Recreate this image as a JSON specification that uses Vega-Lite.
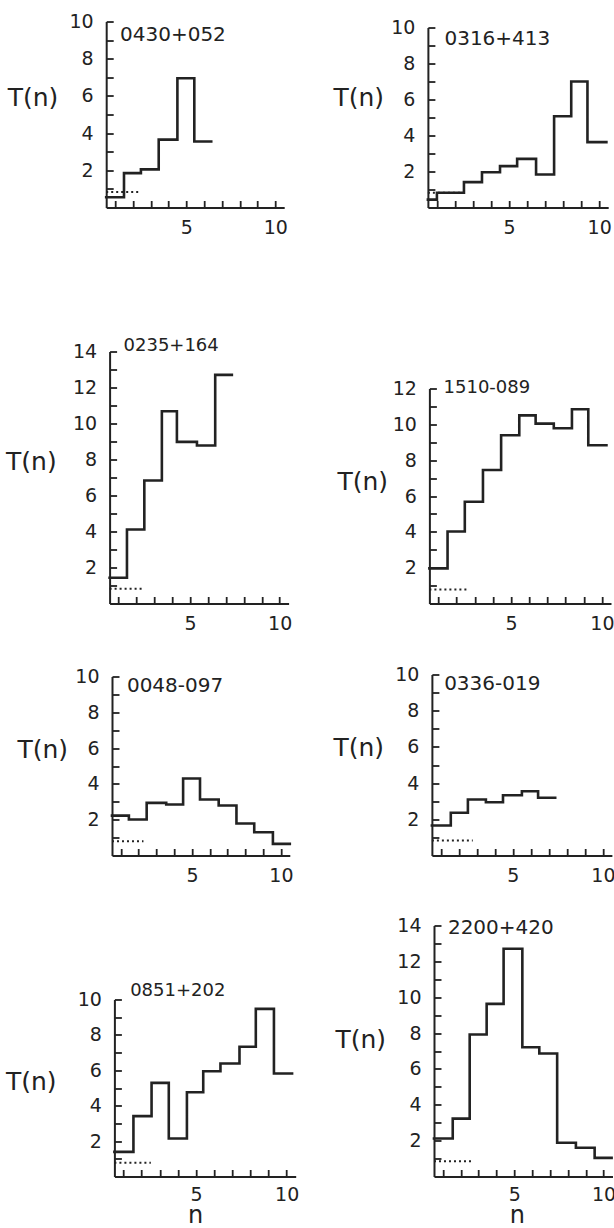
{
  "$schema": "https://vega.github.io/schema/vega-lite/v6.json",
  "background": "white",
  "padding": {"left": 5.2, "top": 12.5, "right": 0, "bottom": 0},
  "autosize": {"type": "pad"},
  "config": {
    "view": {"stroke": null},
    "font": "DejaVu Sans",
    "axis": {
      "grid": false,
      "domainColor": "#222",
      "domainWidth": 2,
      "tickColor": "#222",
      "tickWidth": 1.8,
      "tickSize": -7,
      "tickCount": 20,
      "labelFont": "DejaVu Sans",
      "labelFontSize": 19,
      "labelColor": "#222",
      "labelFlush": false,
      "labelOverlap": false,
      "titleFont": "DejaVu Sans",
      "titleFontWeight": "normal",
      "titleColor": "#222"
    }
  },
  "datasets": {
    "bins": [
      {"p": "0430+052", "n": 1, "lo": 0.5, "hi": 1.5, "T": 0.55},
      {"p": "0430+052", "n": 2, "lo": 1.5, "hi": 2.45, "T": 1.85},
      {"p": "0430+052", "n": 3, "lo": 2.45, "hi": 3.45, "T": 2.05},
      {"p": "0430+052", "n": 4, "lo": 3.45, "hi": 4.5, "T": 3.65},
      {"p": "0430+052", "n": 5, "lo": 4.5, "hi": 5.45, "T": 6.95},
      {"p": "0430+052", "n": 6, "lo": 5.45, "hi": 6.4, "T": 3.55},
      {"p": "0316+413", "n": 1, "lo": 0.5, "hi": 1.0, "T": 0.44},
      {"p": "0316+413", "n": 2, "lo": 1.0, "hi": 2.5, "T": 0.82},
      {"p": "0316+413", "n": 3, "lo": 2.5, "hi": 3.5, "T": 1.41},
      {"p": "0316+413", "n": 4, "lo": 3.5, "hi": 4.5, "T": 1.96},
      {"p": "0316+413", "n": 5, "lo": 4.5, "hi": 5.45, "T": 2.3},
      {"p": "0316+413", "n": 6, "lo": 5.45, "hi": 6.5, "T": 2.7},
      {"p": "0316+413", "n": 7, "lo": 6.5, "hi": 7.5, "T": 1.83},
      {"p": "0316+413", "n": 8, "lo": 7.5, "hi": 8.45, "T": 5.07},
      {"p": "0316+413", "n": 9, "lo": 8.45, "hi": 9.35, "T": 7.0},
      {"p": "0316+413", "n": 10, "lo": 9.35, "hi": 10.4, "T": 3.63},
      {"p": "0235+164", "n": 1, "lo": 0.5, "hi": 1.47, "T": 1.43},
      {"p": "0235+164", "n": 2, "lo": 1.47, "hi": 2.44, "T": 4.11},
      {"p": "0235+164", "n": 3, "lo": 2.44, "hi": 3.42, "T": 6.83},
      {"p": "0235+164", "n": 4, "lo": 3.42, "hi": 4.26, "T": 10.68},
      {"p": "0235+164", "n": 5, "lo": 4.26, "hi": 5.38, "T": 8.98},
      {"p": "0235+164", "n": 6, "lo": 5.38, "hi": 6.4, "T": 8.78},
      {"p": "0235+164", "n": 7, "lo": 6.4, "hi": 7.33, "T": 12.7},
      {"p": "1510-089", "n": 1, "lo": 0.5, "hi": 1.5, "T": 1.96},
      {"p": "1510-089", "n": 2, "lo": 1.5, "hi": 2.45, "T": 4.02},
      {"p": "1510-089", "n": 3, "lo": 2.45, "hi": 3.45, "T": 5.68},
      {"p": "1510-089", "n": 4, "lo": 3.45, "hi": 4.45, "T": 7.45},
      {"p": "1510-089", "n": 5, "lo": 4.45, "hi": 5.45, "T": 9.39},
      {"p": "1510-089", "n": 6, "lo": 5.45, "hi": 6.35, "T": 10.5},
      {"p": "1510-089", "n": 7, "lo": 6.35, "hi": 7.35, "T": 10.04},
      {"p": "1510-089", "n": 8, "lo": 7.35, "hi": 8.35, "T": 9.78},
      {"p": "1510-089", "n": 9, "lo": 8.35, "hi": 9.25, "T": 10.84},
      {"p": "1510-089", "n": 10, "lo": 9.25, "hi": 10.25, "T": 8.83},
      {"p": "0048-097", "n": 1, "lo": 0.5, "hi": 1.45, "T": 2.23},
      {"p": "0048-097", "n": 2, "lo": 1.45, "hi": 2.45, "T": 2.01},
      {"p": "0048-097", "n": 3, "lo": 2.45, "hi": 3.55, "T": 2.94},
      {"p": "0048-097", "n": 4, "lo": 3.55, "hi": 4.5, "T": 2.85},
      {"p": "0048-097", "n": 5, "lo": 4.5, "hi": 5.45, "T": 4.3},
      {"p": "0048-097", "n": 6, "lo": 5.45, "hi": 6.5, "T": 3.13},
      {"p": "0048-097", "n": 7, "lo": 6.5, "hi": 7.5, "T": 2.79},
      {"p": "0048-097", "n": 8, "lo": 7.5, "hi": 8.5, "T": 1.79},
      {"p": "0048-097", "n": 9, "lo": 8.5, "hi": 9.55, "T": 1.3},
      {"p": "0048-097", "n": 10, "lo": 9.55, "hi": 10.5, "T": 0.65},
      {"p": "0336-019", "n": 1, "lo": 0.5, "hi": 1.55, "T": 1.66},
      {"p": "0336-019", "n": 2, "lo": 1.55, "hi": 2.5, "T": 2.36},
      {"p": "0336-019", "n": 3, "lo": 2.5, "hi": 3.5, "T": 3.09},
      {"p": "0336-019", "n": 4, "lo": 3.5, "hi": 4.45, "T": 2.94},
      {"p": "0336-019", "n": 5, "lo": 4.45, "hi": 5.5, "T": 3.33},
      {"p": "0336-019", "n": 6, "lo": 5.5, "hi": 6.4, "T": 3.55},
      {"p": "0336-019", "n": 7, "lo": 6.4, "hi": 7.35, "T": 3.19},
      {"p": "0851+202", "n": 1, "lo": 0.5, "hi": 1.55, "T": 1.39},
      {"p": "0851+202", "n": 2, "lo": 1.55, "hi": 2.55, "T": 3.41},
      {"p": "0851+202", "n": 3, "lo": 2.55, "hi": 3.5, "T": 5.29},
      {"p": "0851+202", "n": 4, "lo": 3.5, "hi": 4.5, "T": 2.15},
      {"p": "0851+202", "n": 5, "lo": 4.5, "hi": 5.4, "T": 4.76},
      {"p": "0851+202", "n": 6, "lo": 5.4, "hi": 6.35, "T": 5.95},
      {"p": "0851+202", "n": 7, "lo": 6.35, "hi": 7.4, "T": 6.38},
      {"p": "0851+202", "n": 8, "lo": 7.4, "hi": 8.3, "T": 7.33},
      {"p": "0851+202", "n": 9, "lo": 8.3, "hi": 9.3, "T": 9.47},
      {"p": "0851+202", "n": 10, "lo": 9.3, "hi": 10.3, "T": 5.82},
      {"p": "2200+420", "n": 1, "lo": 0.5, "hi": 1.55, "T": 2.12},
      {"p": "2200+420", "n": 2, "lo": 1.55, "hi": 2.5, "T": 3.23},
      {"p": "2200+420", "n": 3, "lo": 2.5, "hi": 3.45, "T": 7.92},
      {"p": "2200+420", "n": 4, "lo": 3.45, "hi": 4.4, "T": 9.63},
      {"p": "2200+420", "n": 5, "lo": 4.4, "hi": 5.45, "T": 12.7},
      {"p": "2200+420", "n": 6, "lo": 5.45, "hi": 6.4, "T": 7.21},
      {"p": "2200+420", "n": 7, "lo": 6.4, "hi": 7.4, "T": 6.86},
      {"p": "2200+420", "n": 8, "lo": 7.4, "hi": 8.45, "T": 1.88},
      {"p": "2200+420", "n": 9, "lo": 8.45, "hi": 9.5, "T": 1.6},
      {"p": "2200+420", "n": 10, "lo": 9.5, "hi": 10.45, "T": 1.04}
    ],
    "noise": [
      {"p": "0430+052", "lo": 0.5, "hi": 2.4, "T": 0.83},
      {"p": "0316+413", "lo": 0.5, "hi": 2.3, "T": 0.82},
      {"p": "0235+164", "lo": 0.5, "hi": 2.43, "T": 0.82},
      {"p": "1510-089", "lo": 0.5, "hi": 2.7, "T": 0.78},
      {"p": "0048-097", "lo": 0.5, "hi": 2.27, "T": 0.8},
      {"p": "0336-019", "lo": 0.5, "hi": 2.77, "T": 0.83},
      {"p": "0851+202", "lo": 0.5, "hi": 2.51, "T": 0.77},
      {"p": "2200+420", "lo": 0.5, "hi": 2.6, "T": 0.85}
    ]
  },
  "columns": 2,
  "align": "each",
  "bounds": "flush",
  "spacing": {"row": 50, "column": 131},
  "concat": [
    {
      "width": 190, "height": 193,
      "layer": [
        {
          "data": {"name": "bins"},
          "transform": [{"filter": "datum.p === '0430+052'"}, {"fold": ["lo", "hi"], "as": ["k", "x"]}],
          "mark": {"type": "line", "stroke": "#222", "strokeWidth": 2.6, "strokeJoin": "miter", "strokeCap": "square"},
          "encoding": {
            "x": {"field": "x", "type": "quantitative", "scale": {"domain": [0.5, 10.5], "range": [0, 178], "nice": false, "zero": false},
                  "axis": {"values": [1,2,3,4,5,6,7,8,9,10], "format": "d", "tickCount": 20, "labelExpr": "datum.value % 5 === 0 ? datum.label : ''", "labelOverlap": false, "labelPadding": 18, "title": null}},
            "y": {"field": "T", "type": "quantitative", "scale": {"domain": [0, 10], "range": [193, 7], "nice": false, "zero": true},
                  "axis": {"values": [1,2,3,4,5,6,7,8,9,10], "format": "d", "tickCount": 20, "labelExpr": "datum.value % 2 === 0 ? datum.label : ''", "labelOverlap": false, "labelPadding": 20, "offset": 0,
                           "title": "T(n)", "titleAngle": 0, "titleAlign": "left", "titleBaseline": "middle", "titleFontSize": 25, "titleX": -99, "titleY": 83}},
            "order": [{"field": "x", "type": "quantitative"}, {"field": "n", "type": "quantitative"}]
          }
        },
        {
          "data": {"name": "noise"},
          "transform": [{"filter": "datum.p === '0430+052'"}],
          "mark": {"type": "rule", "stroke": "#222", "strokeWidth": 2, "strokeDash": [2, 3]},
          "encoding": {"x": {"field": "lo", "type": "quantitative"}, "x2": {"field": "hi"}, "y": {"field": "T", "type": "quantitative"}}
        },
        {
          "data": {"values": [{}]},
          "mark": {"type": "text", "align": "left", "baseline": "middle", "fontSize": 20, "font": "DejaVu Sans", "color": "#222"},
          "encoding": {"x": {"datum": 1.28, "type": "quantitative"}, "y": {"datum": 9.25, "type": "quantitative"}, "text": {"value": "0430+052"}}
        }
      ]
    },
    {
      "width": 178, "height": 193,
      "layer": [
        {
          "data": {"name": "bins"},
          "transform": [{"filter": "datum.p === '0316+413'"}, {"fold": ["lo", "hi"], "as": ["k", "x"]}],
          "mark": {"type": "line", "stroke": "#222", "strokeWidth": 2.6, "strokeJoin": "miter", "strokeCap": "square"},
          "encoding": {
            "x": {"field": "x", "type": "quantitative", "scale": {"domain": [0.5, 10.5], "range": [0.7, 181], "nice": false, "zero": false},
                  "axis": {"values": [1,2,3,4,5,6,7,8,9,10], "format": "d", "tickCount": 20, "labelExpr": "datum.value % 5 === 0 ? datum.label : ''", "labelOverlap": false, "labelPadding": 18, "title": null}},
            "y": {"field": "T", "type": "quantitative", "scale": {"domain": [0, 10], "range": [193, 13], "nice": false, "zero": true},
                  "axis": {"values": [1,2,3,4,5,6,7,8,9,10], "format": "d", "tickCount": 20, "labelExpr": "datum.value % 2 === 0 ? datum.label : ''", "labelOverlap": false, "labelPadding": 20, "offset": -0.7,
                           "title": "T(n)", "titleAngle": 0, "titleAlign": "left", "titleBaseline": "middle", "titleFontSize": 25, "titleX": -95, "titleY": 83}},
            "order": [{"field": "x", "type": "quantitative"}, {"field": "n", "type": "quantitative"}]
          }
        },
        {
          "data": {"name": "noise"},
          "transform": [{"filter": "datum.p === '0316+413'"}],
          "mark": {"type": "rule", "stroke": "#222", "strokeWidth": 2, "strokeDash": [2, 3]},
          "encoding": {"x": {"field": "lo", "type": "quantitative"}, "x2": {"field": "hi"}, "y": {"field": "T", "type": "quantitative"}}
        },
        {
          "data": {"values": [{}]},
          "mark": {"type": "text", "align": "left", "baseline": "middle", "fontSize": 20, "font": "DejaVu Sans", "color": "#222"},
          "encoding": {"x": {"datum": 1.42, "type": "quantitative"}, "y": {"datum": 9.37, "type": "quantitative"}, "text": {"value": "0316+413"}}
        }
      ]
    },
    {
      "width": 190, "height": 346,
      "layer": [
        {
          "data": {"name": "bins"},
          "transform": [{"filter": "datum.p === '0235+164'"}, {"fold": ["lo", "hi"], "as": ["k", "x"]}],
          "mark": {"type": "line", "stroke": "#222", "strokeWidth": 2.6, "strokeJoin": "miter", "strokeCap": "square"},
          "encoding": {
            "x": {"field": "x", "type": "quantitative", "scale": {"domain": [0.5, 10.5], "range": [3.4, 182.4], "nice": false, "zero": false},
                  "axis": {"values": [1,2,3,4,5,6,7,8,9,10], "format": "d", "tickCount": 20, "labelExpr": "datum.value % 5 === 0 ? datum.label : ''", "labelOverlap": false, "labelPadding": 18, "title": null}},
            "y": {"field": "T", "type": "quantitative", "scale": {"domain": [0, 14], "range": [346, 94], "nice": false, "zero": true},
                  "axis": {"values": [1,2,3,4,5,6,7,8,9,10,11,12,13,14], "format": "d", "tickCount": 20, "labelExpr": "datum.value % 2 === 0 ? datum.label : ''", "labelOverlap": false, "labelPadding": 20, "offset": -3.4,
                           "title": "T(n)", "titleAngle": 0, "titleAlign": "left", "titleBaseline": "middle", "titleFontSize": 25, "titleX": -104, "titleY": 203.7}},
            "order": [{"field": "x", "type": "quantitative"}, {"field": "n", "type": "quantitative"}]
          }
        },
        {
          "data": {"name": "noise"},
          "transform": [{"filter": "datum.p === '0235+164'"}],
          "mark": {"type": "rule", "stroke": "#222", "strokeWidth": 2, "strokeDash": [2, 3]},
          "encoding": {"x": {"field": "lo", "type": "quantitative"}, "x2": {"field": "hi"}, "y": {"field": "T", "type": "quantitative"}}
        },
        {
          "data": {"values": [{}]},
          "mark": {"type": "text", "align": "left", "baseline": "middle", "fontSize": 18, "font": "DejaVu Sans", "color": "#222"},
          "encoding": {"x": {"datum": 1.28, "type": "quantitative"}, "y": {"datum": 14.3, "type": "quantitative"}, "text": {"value": "0235+164"}}
        }
      ]
    },
    {
      "width": 178, "height": 346,
      "layer": [
        {
          "data": {"name": "bins"},
          "transform": [{"filter": "datum.p === '1510-089'"}, {"fold": ["lo", "hi"], "as": ["k", "x"]}],
          "mark": {"type": "line", "stroke": "#222", "strokeWidth": 2.6, "strokeJoin": "miter", "strokeCap": "square"},
          "encoding": {
            "x": {"field": "x", "type": "quantitative", "scale": {"domain": [0.5, 10.5], "range": [2.2, 183.8], "nice": false, "zero": false},
                  "axis": {"values": [1,2,3,4,5,6,7,8,9,10], "format": "d", "tickCount": 20, "labelExpr": "datum.value % 5 === 0 ? datum.label : ''", "labelOverlap": false, "labelPadding": 18, "title": null}},
            "y": {"field": "T", "type": "quantitative", "scale": {"domain": [0, 12], "range": [346, 131], "nice": false, "zero": true},
                  "axis": {"values": [1,2,3,4,5,6,7,8,9,10,11,12], "format": "d", "tickCount": 20, "labelExpr": "datum.value % 2 === 0 ? datum.label : ''", "labelOverlap": false, "labelPadding": 20, "offset": -2.2,
                           "title": "T(n)", "titleAngle": 0, "titleAlign": "left", "titleBaseline": "middle", "titleFontSize": 25, "titleX": -92.5, "titleY": 223.7}},
            "order": [{"field": "x", "type": "quantitative"}, {"field": "n", "type": "quantitative"}]
          }
        },
        {
          "data": {"name": "noise"},
          "transform": [{"filter": "datum.p === '1510-089'"}],
          "mark": {"type": "rule", "stroke": "#222", "strokeWidth": 2, "strokeDash": [2, 3]},
          "encoding": {"x": {"field": "lo", "type": "quantitative"}, "x2": {"field": "hi"}, "y": {"field": "T", "type": "quantitative"}}
        },
        {
          "data": {"values": [{}]},
          "mark": {"type": "text", "align": "left", "baseline": "middle", "fontSize": 18, "font": "DejaVu Sans", "color": "#222"},
          "encoding": {"x": {"datum": 1.28, "type": "quantitative"}, "y": {"datum": 12.05, "type": "quantitative"}, "text": {"value": "1510-089"}}
        }
      ]
    },
    {
      "width": 190, "height": 202,
      "layer": [
        {
          "data": {"name": "bins"},
          "transform": [{"filter": "datum.p === '0048-097'"}, {"fold": ["lo", "hi"], "as": ["k", "x"]}],
          "mark": {"type": "line", "stroke": "#222", "strokeWidth": 2.6, "strokeJoin": "miter", "strokeCap": "square"},
          "encoding": {
            "x": {"field": "x", "type": "quantitative", "scale": {"domain": [0.5, 10.5], "range": [5.8, 183.6], "nice": false, "zero": false},
                  "axis": {"values": [1,2,3,4,5,6,7,8,9,10], "format": "d", "tickCount": 20, "labelExpr": "datum.value % 5 === 0 ? datum.label : ''", "labelOverlap": false, "labelPadding": 18, "title": null}},
            "y": {"field": "T", "type": "quantitative", "scale": {"domain": [0, 10], "range": [202, 23], "nice": false, "zero": true},
                  "axis": {"values": [1,2,3,4,5,6,7,8,9,10], "format": "d", "tickCount": 20, "labelExpr": "datum.value % 2 === 0 ? datum.label : ''", "labelOverlap": false, "labelPadding": 20, "offset": -5.8,
                           "title": "T(n)", "titleAngle": 0, "titleAlign": "left", "titleBaseline": "middle", "titleFontSize": 25, "titleX": -95, "titleY": 96}},
            "order": [{"field": "x", "type": "quantitative"}, {"field": "n", "type": "quantitative"}]
          }
        },
        {
          "data": {"name": "noise"},
          "transform": [{"filter": "datum.p === '0048-097'"}],
          "mark": {"type": "rule", "stroke": "#222", "strokeWidth": 2, "strokeDash": [2, 3]},
          "encoding": {"x": {"field": "lo", "type": "quantitative"}, "x2": {"field": "hi"}, "y": {"field": "T", "type": "quantitative"}}
        },
        {
          "data": {"values": [{}]},
          "mark": {"type": "text", "align": "left", "baseline": "middle", "fontSize": 20, "font": "DejaVu Sans", "color": "#222"},
          "encoding": {"x": {"datum": 1.34, "type": "quantitative"}, "y": {"datum": 9.46, "type": "quantitative"}, "text": {"value": "0048-097"}}
        }
      ]
    },
    {
      "width": 178, "height": 202,
      "layer": [
        {
          "data": {"name": "bins"},
          "transform": [{"filter": "datum.p === '0336-019'"}, {"fold": ["lo", "hi"], "as": ["k", "x"]}],
          "mark": {"type": "line", "stroke": "#222", "strokeWidth": 2.6, "strokeJoin": "miter", "strokeCap": "square"},
          "encoding": {
            "x": {"field": "x", "type": "quantitative", "scale": {"domain": [0.5, 10.5], "range": [4.7, 184.7], "nice": false, "zero": false},
                  "axis": {"values": [1,2,3,4,5,6,7,8,9,10], "format": "d", "tickCount": 20, "labelExpr": "datum.value % 5 === 0 ? datum.label : ''", "labelOverlap": false, "labelPadding": 18, "title": null}},
            "y": {"field": "T", "type": "quantitative", "scale": {"domain": [0, 10], "range": [202, 21], "nice": false, "zero": true},
                  "axis": {"values": [1,2,3,4,5,6,7,8,9,10], "format": "d", "tickCount": 20, "labelExpr": "datum.value % 2 === 0 ? datum.label : ''", "labelOverlap": false, "labelPadding": 20, "offset": -4.7,
                           "title": "T(n)", "titleAngle": 0, "titleAlign": "left", "titleBaseline": "middle", "titleFontSize": 25, "titleX": -99, "titleY": 94.3}},
            "order": [{"field": "x", "type": "quantitative"}, {"field": "n", "type": "quantitative"}]
          }
        },
        {
          "data": {"name": "noise"},
          "transform": [{"filter": "datum.p === '0336-019'"}],
          "mark": {"type": "rule", "stroke": "#222", "strokeWidth": 2, "strokeDash": [2, 3]},
          "encoding": {"x": {"field": "lo", "type": "quantitative"}, "x2": {"field": "hi"}, "y": {"field": "T", "type": "quantitative"}}
        },
        {
          "data": {"values": [{}]},
          "mark": {"type": "text", "align": "left", "baseline": "middle", "fontSize": 20, "font": "DejaVu Sans", "color": "#222"},
          "encoding": {"x": {"datum": 1.18, "type": "quantitative"}, "y": {"datum": 9.45, "type": "quantitative"}, "text": {"value": "0336-019"}}
        }
      ]
    },
    {
      "width": 190, "height": 271,
      "layer": [
        {
          "data": {"name": "bins"},
          "transform": [{"filter": "datum.p === '0851+202'"}, {"fold": ["lo", "hi"], "as": ["k", "x"]}],
          "mark": {"type": "line", "stroke": "#222", "strokeWidth": 2.6, "strokeJoin": "miter", "strokeCap": "square"},
          "encoding": {
            "x": {"field": "x", "type": "quantitative", "scale": {"domain": [0.5, 10.5], "range": [8.2, 189.5], "nice": false, "zero": false},
                  "axis": {"values": [1,2,3,4,5,6,7,8,9,10], "format": "d", "tickCount": 20, "labelExpr": "datum.value % 5 === 0 ? datum.label : ''", "labelOverlap": false, "labelPadding": 16,
                           "title": "n", "titleFontSize": 24, "titleAlign": "center", "titleBaseline": "alphabetic", "titleX": 89, "titleY": 46}},
            "y": {"field": "T", "type": "quantitative", "scale": {"domain": [0, 10], "range": [271, 94], "nice": false, "zero": true},
                  "axis": {"values": [1,2,3,4,5,6,7,8,9,10], "format": "d", "tickCount": 20, "labelExpr": "datum.value % 2 === 0 ? datum.label : ''", "labelOverlap": false, "labelPadding": 20, "offset": -8.2,
                           "title": "T(n)", "titleAngle": 0, "titleAlign": "left", "titleBaseline": "middle", "titleFontSize": 25, "titleX": -109, "titleY": 175.7}},
            "order": [{"field": "x", "type": "quantitative"}, {"field": "n", "type": "quantitative"}]
          }
        },
        {
          "data": {"name": "noise"},
          "transform": [{"filter": "datum.p === '0851+202'"}],
          "mark": {"type": "rule", "stroke": "#222", "strokeWidth": 2, "strokeDash": [2, 3]},
          "encoding": {"x": {"field": "lo", "type": "quantitative"}, "x2": {"field": "hi"}, "y": {"field": "T", "type": "quantitative"}}
        },
        {
          "data": {"values": [{}]},
          "mark": {"type": "text", "align": "left", "baseline": "middle", "fontSize": 18, "font": "DejaVu Sans", "color": "#222"},
          "encoding": {"x": {"datum": 1.37, "type": "quantitative"}, "y": {"datum": 10.47, "type": "quantitative"}, "text": {"value": "0851+202"}}
        }
      ]
    },
    {
      "width": 178, "height": 271,
      "layer": [
        {
          "data": {"name": "bins"},
          "transform": [{"filter": "datum.p === '2200+420'"}, {"fold": ["lo", "hi"], "as": ["k", "x"]}],
          "mark": {"type": "line", "stroke": "#222", "strokeWidth": 2.6, "strokeJoin": "miter", "strokeCap": "square"},
          "encoding": {
            "x": {"field": "x", "type": "quantitative", "scale": {"domain": [0.5, 10.5], "range": [6.8, 185.3], "nice": false, "zero": false},
                  "axis": {"values": [1,2,3,4,5,6,7,8,9,10], "format": "d", "tickCount": 20, "labelExpr": "datum.value % 5 === 0 ? datum.label : ''", "labelOverlap": false, "labelPadding": 16,
                           "title": "n", "titleFontSize": 24, "titleAlign": "center", "titleBaseline": "alphabetic", "titleX": 89.7, "titleY": 46}},
            "y": {"field": "T", "type": "quantitative", "scale": {"domain": [0, 14], "range": [271, 20], "nice": false, "zero": true},
                  "axis": {"values": [1,2,3,4,5,6,7,8,9,10,11,12,13,14], "format": "d", "tickCount": 20, "labelExpr": "datum.value % 2 === 0 ? datum.label : ''", "labelOverlap": false, "labelPadding": 20, "offset": -6.8,
                           "title": "T(n)", "titleAngle": 0, "titleAlign": "left", "titleBaseline": "middle", "titleFontSize": 25, "titleX": -99, "titleY": 134}},
            "order": [{"field": "x", "type": "quantitative"}, {"field": "n", "type": "quantitative"}]
          }
        },
        {
          "data": {"name": "noise"},
          "transform": [{"filter": "datum.p === '2200+420'"}],
          "mark": {"type": "rule", "stroke": "#222", "strokeWidth": 2, "strokeDash": [2, 3]},
          "encoding": {"x": {"field": "lo", "type": "quantitative"}, "x2": {"field": "hi"}, "y": {"field": "T", "type": "quantitative"}}
        },
        {
          "data": {"values": [{}]},
          "mark": {"type": "text", "align": "left", "baseline": "middle", "fontSize": 20, "font": "DejaVu Sans", "color": "#222"},
          "encoding": {"x": {"datum": 1.28, "type": "quantitative"}, "y": {"datum": 13.87, "type": "quantitative"}, "text": {"value": "2200+420"}}
        }
      ]
    }
  ]
}
